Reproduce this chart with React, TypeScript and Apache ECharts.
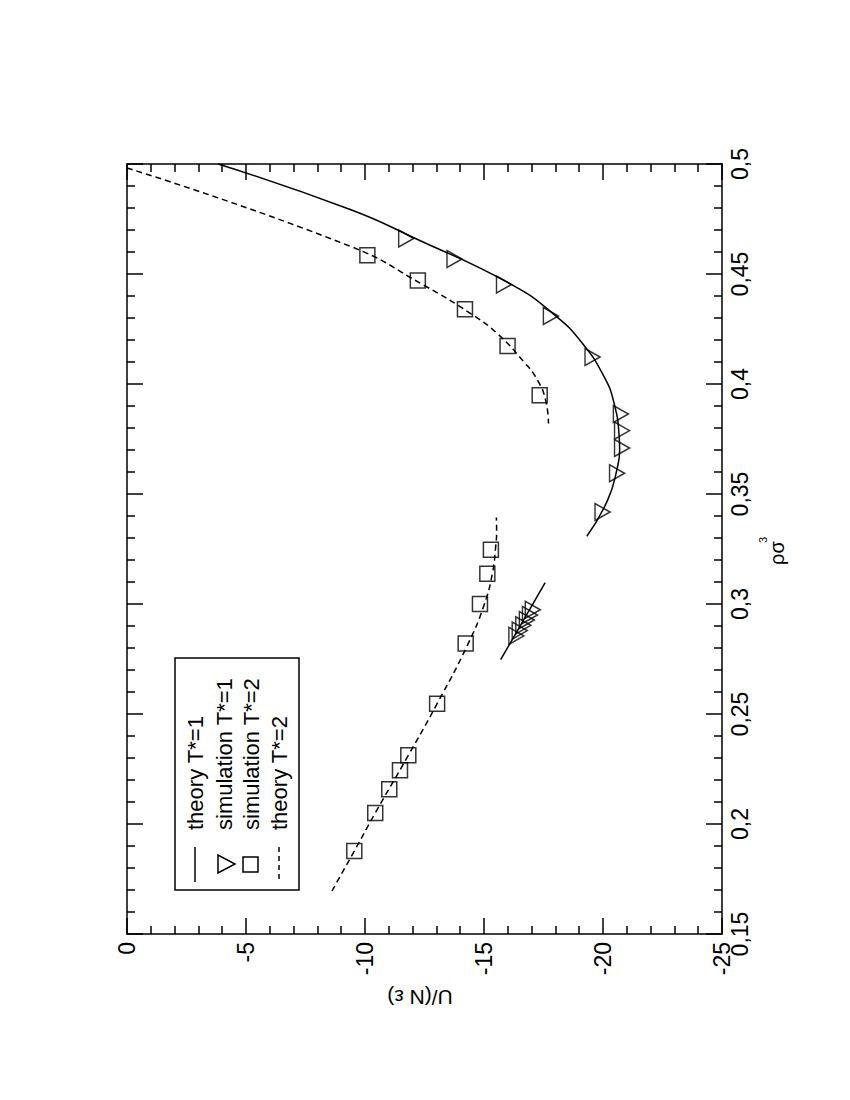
import React, { useEffect, useRef } from 'react';
import * as echarts from 'echarts';

const FONT = '"Liberation Sans", Arial, Helvetica, sans-serif';

// [U/(N eps), rho sigma^3]
const theory1Upper: [number, number][] = [
  [-3.83, 0.5], [-9.38, 0.4793], [-12.05, 0.4665], [-16.16, 0.4452], [-17.95, 0.4315],
  [-19.14, 0.4184], [-20.05, 0.4032], [-20.47, 0.3911], [-20.68, 0.376], [-20.7, 0.37],
  [-20.61, 0.3623], [-20.19, 0.3471], [-19.32, 0.3308],
];
const theory1Lower: [number, number][] = [[-15.7, 0.2747], [-17.57, 0.3097]];
const theory2Upper: [number, number][] = [
  [0, 0.4982], [-9.38, 0.4626], [-12.47, 0.4449], [-14.44, 0.432],
  [-15.56, 0.4229], [-16.68, 0.41], [-17.25, 0.4017], [-17.59, 0.3926], [-17.71, 0.382],
];
const theory2Lower: [number, number][] = [
  [-8.61, 0.1695], [-9.55, 0.1877], [-10.43, 0.205], [-11.82, 0.2312], [-13.03, 0.2547],
  [-14.3, 0.2812], [-15.0, 0.2994], [-15.35, 0.3138], [-15.49, 0.3259], [-15.53, 0.3335],
  [-15.52, 0.3393],
];
const sim1: [number, number][] = [
  [-11.73, 0.4661], [-13.76, 0.4568], [-15.84, 0.4452], [-17.81, 0.4309], [-19.56, 0.4123],
  [-20.75, 0.3864], [-20.8, 0.3788], [-20.8, 0.3709], [-20.59, 0.3594], [-19.98, 0.3418],
  [-16.36, 0.2855], [-16.5, 0.2879], [-16.65, 0.2903], [-16.8, 0.2927], [-16.93, 0.295],
  [-17.05, 0.2974],
];
const sim2: [number, number][] = [
  [-10.1, 0.4585], [-12.22, 0.4471], [-14.2, 0.434], [-15.99, 0.4173], [-17.34, 0.3949],
  [-9.55, 0.1877], [-10.43, 0.205], [-11.02, 0.2158], [-11.47, 0.2244], [-11.82, 0.2312],
  [-13.03, 0.2547], [-14.23, 0.282], [-14.83, 0.3], [-15.14, 0.3138], [-15.29, 0.3247],
];

const legendLabels = ['theory T*=1', 'simulation T*=1', 'simulation T*=2', 'theory T*=2'];
const xName = 'U/(N ε)';
const yName = 'ρσ';
const yNameSup = '3';

const black = '#000';
const axisStroke = { color: black, width: 1.5 };

function xAx(position: 'bottom' | 'top', labels: boolean) {
  return {
    type: 'value',
    position,
    min: -25,
    max: 0,
    interval: 5,
    inverse: true,
    axisLine: { show: true, onZero: false, lineStyle: axisStroke },
    axisTick: { show: true, inside: true, length: 16, lineStyle: axisStroke },
    minorTick: { show: true, splitNumber: 5, length: 8, lineStyle: axisStroke },
    splitLine: { show: false },
    minorSplitLine: { show: false },
    axisLabel: {
      show: labels,
      rotate: 90,
      margin: 8,
      fontSize: 23,
      color: black,
      fontFamily: FONT,
      showMinLabel: true,
      showMaxLabel: true,
    },
  };
}

function yAx(position: 'left' | 'right', labels: boolean) {
  return {
    type: 'value',
    position,
    min: 0.15,
    max: 0.5,
    interval: 0.05,
    axisLine: { show: true, onZero: false, lineStyle: axisStroke },
    axisTick: { show: true, inside: true, length: 16, lineStyle: axisStroke },
    minorTick: { show: true, splitNumber: 5, length: 8, lineStyle: axisStroke },
    splitLine: { show: false },
    minorSplitLine: { show: false },
    axisLabel: {
      show: labels,
      rotate: 90,
      margin: 6,
      fontSize: 23,
      color: black,
      fontFamily: FONT,
      showMinLabel: true,
      showMaxLabel: true,
      formatter: (v: number) => String(+v.toFixed(2)).replace('.', ','),
    },
  };
}

const lineSeries = (data: [number, number][], dashed: boolean) => ({
  type: 'line',
  data,
  symbol: 'none',
  showSymbol: false,
  smooth: 0.5,
  silent: true,
  xAxisIndex: 0,
  yAxisIndex: 0,
  lineStyle: { color: black, width: 1.5, type: dashed ? [6, 4] : 'solid' },
});

const txt = (text: string, x: number, y: number, fontSize: number, rotation: number, align = 'left') => ({
  type: 'text',
  x,
  y,
  rotation,
  silent: true,
  style: { text, fontSize, fontFamily: FONT, fill: black, align, verticalAlign: 'middle' },
});

export default function App() {
  const ref = useRef<HTMLDivElement>(null);
  useEffect(() => {
    const chart = echarts.init(ref.current!, null, { renderer: 'svg' });
    const R = Math.PI / 2;
    chart.setOption({
      animation: false,
      backgroundColor: '#fff',
      grid: { left: 127, right: 128, top: 164, bottom: 166, containLabel: false },
      xAxis: [xAx('bottom', true), xAx('top', false)],
      yAxis: [yAx('right', true), yAx('left', false)],
      series: [
        lineSeries(theory1Upper, false),
        lineSeries(theory1Lower, false),
        lineSeries(theory2Upper, true),
        lineSeries(theory2Lower, true),
        {
          type: 'scatter',
          data: sim1,
          symbol: 'triangle',
          symbolSize: [17, 15],
          symbolRotate: -90,
          silent: true,
          itemStyle: { color: 'rgba(0,0,0,0)', borderColor: black, borderWidth: 1.5 },
        },
        {
          type: 'scatter',
          data: sim2,
          symbol: 'rect',
          symbolSize: 15,
          silent: true,
          itemStyle: { color: 'rgba(0,0,0,0)', borderColor: black, borderWidth: 1.5 },
        },
      ],
      graphic: [
        {
          type: 'rect',
          silent: true,
          shape: { x: 175, y: 658, width: 124, height: 232 },
          style: { fill: '#fff', stroke: black, lineWidth: 1.5 },
        },
        { type: 'line', silent: true, shape: { x1: 195, y1: 847, x2: 195, y2: 882 }, style: { stroke: black, lineWidth: 1.5 } },
        { type: 'polygon', silent: true, shape: { points: [[218, 855], [218, 873], [235, 864]] }, style: { fill: 'none', stroke: black, lineWidth: 1.5 } },
        { type: 'rect', silent: true, shape: { x: 243, y: 857, width: 15, height: 15 }, style: { fill: 'none', stroke: black, lineWidth: 1.5 } },
        { type: 'line', silent: true, shape: { x1: 279, y1: 847, x2: 279, y2: 882 }, style: { stroke: black, lineWidth: 1.5, lineDash: [5, 4] } },
        txt(legendLabels[0], 195, 830, 22, R),
        txt(legendLabels[1], 224, 830, 22, R),
        txt(legendLabels[2], 251, 830, 22, R),
        txt(legendLabels[3], 279, 830, 22, R),
        txt(xName, 420, 997, 21, Math.PI, 'center'),
        txt(yName, 777, 565, 20, R),
        txt(yNameSup, 763, 543, 11, R),
      ],
    });
    return () => chart.dispose();
  }, []);
  return (
    <div
      ref={ref}
      style={{ position: 'absolute', left: 0, top: 0, width: 850, height: 1100, background: '#fff' }}
    />
  );
}
